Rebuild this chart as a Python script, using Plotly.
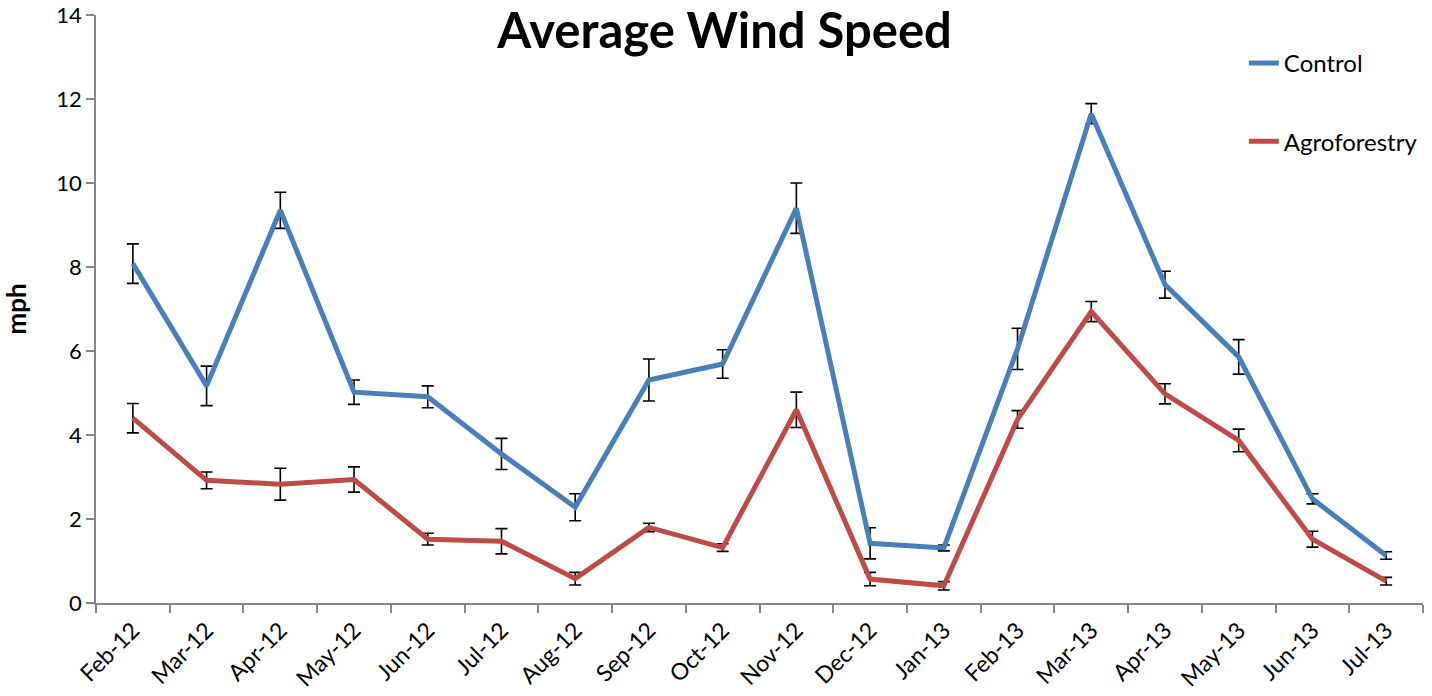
import plotly.graph_objects as go

months = ["Feb-12", "Mar-12", "Apr-12", "May-12", "Jun-12", "Jul-12", "Aug-12", "Sep-12",
          "Oct-12", "Nov-12", "Dec-12", "Jan-13", "Feb-13", "Mar-13", "Apr-13", "May-13",
          "Jun-13", "Jul-13"]

control = [8.08, 5.17, 9.35, 5.02, 4.91, 3.55, 2.28, 5.31, 5.69, 9.40, 1.42, 1.31,
           6.05, 11.65, 7.58, 5.86, 2.48, 1.13]
control_err = [0.47, 0.47, 0.43, 0.29, 0.26, 0.37, 0.32, 0.50, 0.34, 0.60, 0.37, 0.07,
               0.49, 0.24, 0.32, 0.41, 0.12, 0.09]

agro = [4.40, 2.92, 2.83, 2.94, 1.52, 1.47, 0.58, 1.80, 1.32, 4.60, 0.57, 0.41,
        4.37, 6.94, 4.98, 3.87, 1.52, 0.52]
agro_err = [0.35, 0.20, 0.38, 0.30, 0.14, 0.30, 0.15, 0.10, 0.09, 0.42, 0.16, 0.10,
            0.21, 0.24, 0.24, 0.27, 0.19, 0.09]

FONT = "Lato"

fig = go.Figure()
fig.add_trace(go.Scatter(
    x=months, y=control, name="Control", mode="lines",
    line=dict(color="#4A7EBB", width=5),
    error_y=dict(type="data", array=control_err, visible=True, color="black",
                 thickness=1.6, width=6),
    legendgroup="c",
))
fig.add_trace(go.Scatter(
    x=months, y=agro, name="Agroforestry", mode="lines",
    line=dict(color="#BE4B48", width=5),
    error_y=dict(type="data", array=agro_err, visible=True, color="black",
                 thickness=1.6, width=6),
    legendgroup="a",
))

fig.update_layout(
    width=1432, height=696,
    margin=dict(l=96, r=9, t=15, b=93, autoexpand=False),
    paper_bgcolor="white", plot_bgcolor="white",
    font=dict(family=FONT, color="black", size=22),
    title=dict(text="<b>Average Wind Speed</b>", x=0.506, xanchor="center",
               y=0.955, yanchor="middle", font=dict(family=FONT, size=49, color="black")),
    showlegend=True,
    legend=dict(x=0.865, y=0.956, xanchor="left", yanchor="top",
                font=dict(family=FONT, size=24, color="black"),
                tracegroupgap=44, bgcolor="rgba(0,0,0,0)"),
    xaxis=dict(
        type="category", range=[-0.5, 17.5], automargin=False,
        showline=True, linecolor="#868686", linewidth=1.5,
        ticks="outside", tickson="boundaries", ticklen=8, tickcolor="#868686", tickwidth=1.5,
        tickangle=-45, tickfont=dict(family=FONT, size=23, color="black"),
        ticklabelstandoff=3,
        showgrid=False, zeroline=False,
    ),
    yaxis=dict(
        range=[0, 14], dtick=2, tick0=0, automargin=False,
        showline=True, linecolor="#868686", linewidth=1.5,
        ticks="outside", ticklen=8, tickcolor="#868686", tickwidth=1.5,
        tickfont=dict(family=FONT, size=22, color="black"),
        showgrid=False, zeroline=False,
        title=dict(text="<b>mph</b>", font=dict(family=FONT, size=26, color="black"), standoff=34),
    ),
)

fig.write_html("out.html", config={"displayModeBar": False},
               post_script="document.body.style.margin='0';")
